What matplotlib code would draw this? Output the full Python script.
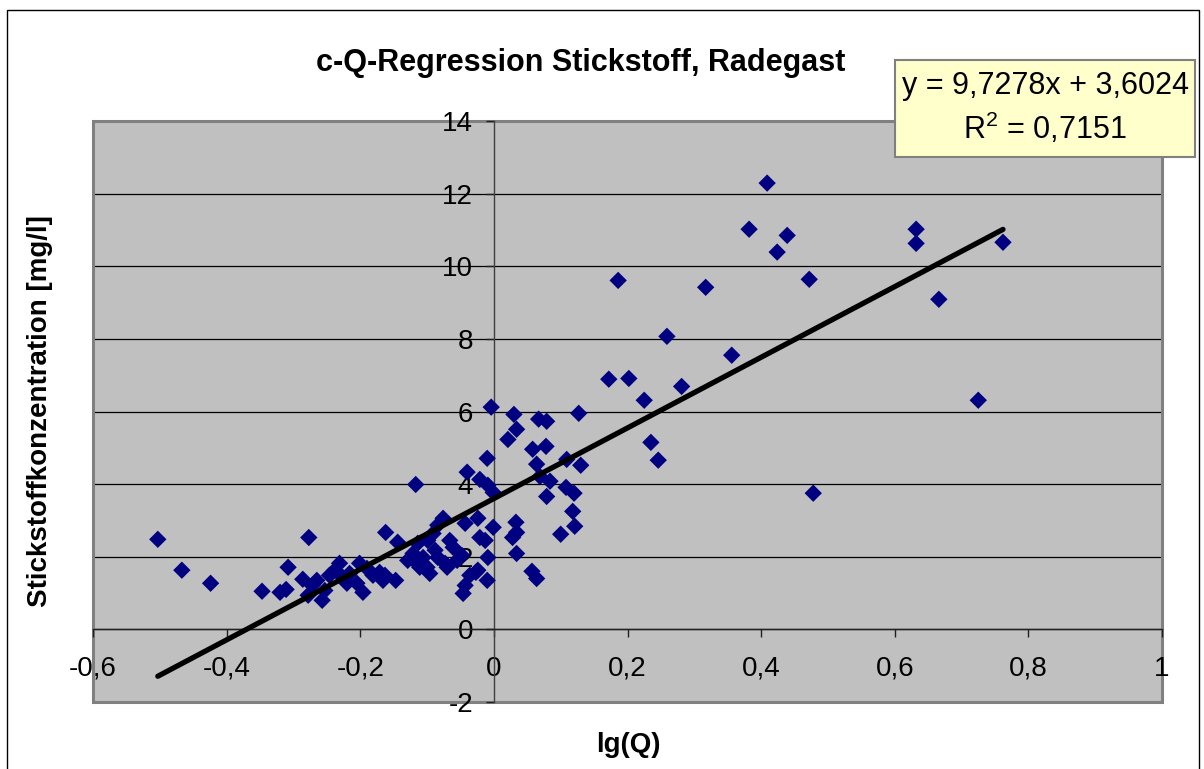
import matplotlib
matplotlib.use("Agg")
import matplotlib.pyplot as plt
from matplotlib.patches import Rectangle

plt.rcParams['font.family'] = ['Liberation Sans', 'DejaVu Sans']
plt.rcParams['mathtext.fontset'] = 'custom'
plt.rcParams['mathtext.rm'] = 'Liberation Sans'

# lg(Q) and nitrogen concentration [mg/l]
lgQ = [-0.503, -0.467, -0.424, -0.347, -0.320, -0.311, -0.308, -0.286, -0.277, -0.265,
       -0.272, -0.257, -0.253, -0.278, -0.246, -0.238, -0.231, -0.226, -0.216, -0.220,
       -0.201, -0.190, -0.205, -0.196, -0.181, -0.171, -0.166, -0.162, -0.144, -0.147,
       -0.117, -0.163, -0.114, -0.121, -0.129, -0.106, -0.100, -0.088, -0.084, -0.073,
       -0.070, -0.055, -0.048, -0.111, -0.115, -0.096, -0.076, -0.084, -0.091, -0.099,
       -0.066, -0.061, -0.043, -0.024, -0.001, -0.021, -0.013, -0.009, -0.036, -0.024,
       -0.010, -0.043, -0.046, -0.040, -0.021, -0.009, -0.001, -0.010, -0.004, 0.030,
       0.034, 0.021, 0.067, 0.079, 0.127, 0.058, 0.078, 0.064, 0.109, 0.130,
       0.069, 0.084, 0.079, 0.108, 0.120, 0.118, 0.121, 0.100, 0.033, 0.034,
       0.028, 0.034, 0.057, 0.064, -0.027, 0.186, 0.172, 0.202, 0.225, 0.235,
       0.246, 0.259, 0.281, 0.317, 0.356, 0.382, 0.409, 0.424, 0.439, 0.472,
       0.478, 0.632, 0.632, 0.762, 0.666, 0.725]
conc = [2.48, 1.63, 1.27, 1.05, 1.02, 1.10, 1.71, 1.38, 2.53, 1.35,
        1.21, 0.80, 1.07, 0.94, 1.49, 1.63, 1.82, 1.43, 1.54, 1.27,
        1.82, 1.68, 1.27, 1.02, 1.49, 1.57, 1.35, 2.67, 2.40, 1.35,
        3.99, 1.49, 2.37, 2.09, 1.90, 1.98, 1.71, 2.18, 1.98, 1.82,
        1.71, 1.90, 2.04, 1.71, 1.82, 1.54, 3.06, 2.87, 2.64, 2.45,
        2.45, 2.26, 2.92, 3.06, 2.81, 2.53, 2.45, 1.98, 1.49, 1.63,
        1.35, 1.21, 0.99, 4.33, 4.13, 3.97, 3.77, 4.71, 6.12, 5.92,
        5.51, 5.23, 5.79, 5.73, 5.95, 4.96, 5.04, 4.55, 4.68, 4.52,
        4.21, 4.08, 3.66, 3.91, 3.75, 3.25, 2.84, 2.62, 2.95, 2.67,
        2.53, 2.09, 1.60, 1.40, 1.57, 9.61, 6.89, 6.91, 6.31, 5.15,
        4.66, 8.07, 6.69, 9.42, 7.55, 11.02, 12.29, 10.39, 10.85, 9.64,
        3.75, 11.02, 10.63, 10.66, 9.09, 6.31]

slope = 9.7278
intercept = 3.6024
r2 = 0.7151

x_ticks = [-0.6, -0.4, -0.2, 0, 0.2, 0.4, 0.6, 0.8, 1]
x_tick_labels = ['-0,6', '-0,4', '-0,2', '0', '0,2', '0,4', '0,6', '0,8', '1']
y_ticks = [-2, 0, 2, 4, 6, 8, 10, 12, 14]
y_tick_labels = ['-2', '0', '2', '4', '6', '8', '10', '12', '14']

fig = plt.figure(figsize=(12.04, 7.69), dpi=100)
ax = fig.add_axes([93 / 1204, 1 - 702 / 769, (1162 - 93) / 1204, (702 - 121) / 769])
ax.set_facecolor('#C0C0C0')

ax.scatter(lgQ, conc, marker='D', s=78, color='#000080', edgecolors='none', zorder=3)

x_line = [min(lgQ), max(lgQ)]
y_line = [slope * v + intercept for v in x_line]
ax.plot(x_line, y_line, color='black', lw=3.8, solid_capstyle='round', zorder=4)

ax.set_xlim(-0.6, 1)
ax.set_ylim(-2, 14)
ax.set_xticks(x_ticks)
ax.set_xticklabels(x_tick_labels)
ax.set_yticks(y_ticks)
ax.set_yticklabels(y_tick_labels)

# inner gridlines only, the frame takes the outer ones
for yv in y_ticks[1:-1]:
    ax.axhline(yv, color='black', lw=0.9, zorder=1)

# plot area frame, below the tick labels
ax.add_patch(Rectangle((0, 0), 1, 1, transform=ax.transAxes, fill=False,
                       ec='#808080', lw=2.2, clip_on=False, zorder=1.5))

# axes cross at zero like in Excel
ax.spines['left'].set_position(('data', 0))
ax.spines['bottom'].set_position(('data', 0))
ax.spines['left'].set_color('#404040')
ax.spines['bottom'].set_color('#202020')
ax.spines['left'].set_linewidth(1.0)
ax.spines['bottom'].set_linewidth(1.0)
ax.spines['top'].set_visible(False)
ax.spines['right'].set_visible(False)

ax.tick_params(axis='x', direction='out', length=6, width=1, color='#202020',
               pad=13, labelsize=20)
ax.tick_params(axis='y', direction='out', length=6, width=1, color='#202020',
               pad=9, labelsize=20)

fig.text(581 / 1204, 1 - 63 / 769, 'c-Q-Regression Stickstoff, Radegast',
         ha='center', va='center', fontsize=22, fontweight='bold')
fig.text(628 / 1204, 1 - 745 / 769, 'lg(Q)', ha='center', va='center',
         fontsize=20, fontweight='bold')
fig.text(40 / 1204, 1 - 411 / 769, 'Stickstoffkonzentration [mg/l]', ha='center',
         va='center', rotation=90, fontsize=20, fontweight='bold')

# trendline label box
fig.patches.append(Rectangle((895 / 1204, 1 - 157 / 769), 300 / 1204, 97 / 769,
                             transform=fig.transFigure, fc='#FFFFCC', ec='#808080',
                             lw=1.5, zorder=6))
eq = 'y = {}x + {}'.format(str(slope).replace('.', ','), str(intercept).replace('.', ','))
rr = r'R$^{\mathregular{2}}$ = ' + str(r2).replace('.', ',')
fig.text(1045 / 1204, 1 - 86 / 769, eq, ha='center', va='center', fontsize=22, zorder=7)
fig.text(1045 / 1204, 1 - 128 / 769, rr, ha='center', va='center', fontsize=22, zorder=7)

# outer chart frame
fig.patches.append(Rectangle((7 / 1204, -0.05), 1192 / 1204, 1.05 - 10 / 769,
                             transform=fig.transFigure, fill=False, ec='black', lw=1))

fig.savefig('out.png', dpi=100)
